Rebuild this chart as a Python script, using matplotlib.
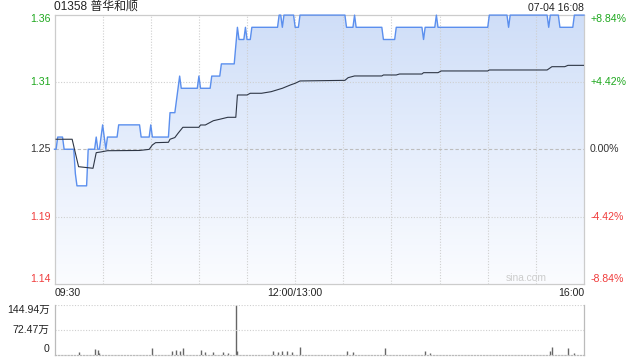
import numpy as np
import matplotlib
matplotlib.use("Agg")
import matplotlib.pyplot as plt
from matplotlib.colors import LinearSegmentedColormap

plt.rcParams['font.family'] = ['Liberation Sans', 'Noto Sans CJK SC', 'DejaVu Sans']
plt.rcParams['font.size'] = 7.6

# 基本情報
title = "01358 普华和顺"
stamp = "07-04 16:08"
prev_close = 1.25
pct_levels = [8.84, 4.42, 0.00, -4.42, -8.84]
price_labels = ["1.36", "1.31", "1.25", "1.19", "1.14"]
pct_labels = ["+8.84%", "+4.42%", "0.00%", "-4.42%", "-8.84%"]
label_colors = ["#1ea81e", "#1ea81e", "#333333", "#f03c3c", "#f03c3c"]
time_labels = ["09:30", "12:00/13:00", "16:00"]
time_label_pos = [0, 150, 330]

# 分時価格（取引開始からの分, 価格）
price_min = [0, 1, 2, 5, 6, 12, 13, 14, 20, 21, 25, 26, 27, 28, 29, 30, 31, 32, 33,
             39, 40, 53, 54, 59, 60, 61, 71, 72, 75, 76, 77, 78, 79, 89, 90, 91,
             97, 98, 103, 104, 112, 114, 115, 118, 119, 120, 122, 123, 139, 140,
             141, 142, 143, 149, 150, 152, 153, 181, 182, 186, 187, 188, 204, 205,
             212, 213, 229, 230, 231, 237, 238, 239, 270, 271, 282, 283, 284,
             307, 308, 309, 314, 315, 323, 324, 330]
price_val = [1.25, 1.25, 1.26, 1.26, 1.25, 1.25, 1.23, 1.22, 1.22, 1.25, 1.25, 1.26, 1.25, 1.25, 1.26, 1.27, 1.26, 1.25, 1.26,
             1.26, 1.27, 1.27, 1.26, 1.26, 1.27, 1.26, 1.26, 1.28, 1.28, 1.29, 1.30, 1.31, 1.30, 1.30, 1.31, 1.30,
             1.30, 1.31, 1.31, 1.32, 1.32, 1.35, 1.34, 1.34, 1.35, 1.34, 1.34, 1.35, 1.35, 1.36,
             1.36, 1.35, 1.36, 1.36, 1.35, 1.35, 1.36, 1.36, 1.35, 1.35, 1.36, 1.35, 1.35, 1.34,
             1.34, 1.35, 1.35, 1.34, 1.35, 1.35, 1.36, 1.35, 1.35, 1.36, 1.36, 1.35, 1.36,
             1.36, 1.35, 1.36, 1.36, 1.35, 1.35, 1.36, 1.36]

# 均価
avg_min = [1, 11, 15, 24, 26, 29, 33, 53, 59, 61, 63, 71, 72, 75, 77, 80, 90, 91, 94, 96,
           99, 103, 108, 113, 114, 120, 122, 129, 135, 142, 147, 150, 153, 181, 183, 187,
           204, 205, 213, 215, 229, 230, 239, 241, 270, 271, 307, 310, 318, 320, 330]
avg_val = [1.2582, 1.2582, 1.2357, 1.2344, 1.2472, 1.2478, 1.2488, 1.2490, 1.2499, 1.2535,
           1.2554, 1.2557, 1.2582, 1.2596, 1.2631, 1.2680, 1.2680, 1.2699, 1.2699, 1.2713,
           1.2734, 1.2746, 1.2762, 1.2762, 1.2945, 1.2945, 1.2959, 1.2959, 1.2972, 1.3000,
           1.3027, 1.3041, 1.3060, 1.3065, 1.3087, 1.3101, 1.3101, 1.3109, 1.3109, 1.3117,
           1.3117, 1.3128, 1.3128, 1.3142, 1.3142, 1.3150, 1.3150, 1.3177, 1.3177, 1.3188, 1.3188]

# 出来高
vol_min = [15, 25, 27, 28, 61, 73, 76, 78, 80, 91, 94, 99, 105, 108, 113, 114, 136, 139,
           142, 145, 148, 153, 182, 186, 206, 231, 234, 309, 310, 320, 324]
vol_val = [69000, 157000, 137000, 39000, 186000, 98000, 127000, 98000, 186000, 127000,
           78000, 78000, 69000, 49000, 1449400, 88000, 98000, 59000, 98000, 98000, 59000,
           215000, 98000, 59000, 186000, 98000, 49000, 108000, 215000, 186000, 39000]
vol_max = 1449400
vol_labels = ["144.94万", "72.47万", "0"]

W, H = 640, 360
fig = plt.figure(figsize=(6.4, 3.6), dpi=100)
ax = fig.add_axes([54.5 / W, 1 - 284 / H, 529.5 / W, 269.5 / H])
axv = fig.add_axes([54.5 / W, 1 - 354.5 / H, 529.5 / W, 49.5 / H])

levels = [prev_close * (1 + p / 100) for p in pct_levels]
ylo, yhi = levels[-1], levels[0]
ax.set_xlim(0, 330)
ax.set_ylim(ylo, yhi)

# グラデーション塗り
cmap = LinearSegmentedColormap.from_list("g", ["#fbfcff", "#e6eefc", "#cfdef8"])
poly = ax.fill_between(price_min, price_val, ylo, color="none", lw=0)
img = ax.imshow(np.linspace(0, 1, 256).reshape(-1, 1), cmap=cmap, origin="lower",
                extent=[0, 330, ylo, yhi], aspect="auto", zorder=1)
img.set_clip_path(poly.get_paths()[0], transform=ax.transData)

# グリッド
for m in range(30, 330, 30):
    ax.axvline(m, color="#cfcfcf", lw=0.8, ls=(0, (1, 1.5)), zorder=2)
for lv in [levels[1], levels[3]]:
    ax.axhline(lv, color="#cfcfcf", lw=0.8, ls=(0, (1, 1.5)), zorder=2)
ax.axhline(levels[2], color="#bdbdbd", lw=0.8, ls=(0, (3, 2)), zorder=2)

ax.plot(price_min, price_val, color="#5b8fee", lw=1.0, zorder=4, clip_on=False)
ax.plot(avg_min, avg_val, color="#2e3645", lw=0.8, zorder=5)

ax.set_xticks([])
ax.set_yticks([])
for s in ax.spines.values():
    s.set_color("#cccccc")
    s.set_linewidth(0.9)

ytr = ax.get_yaxis_transform()
vas = ["top", "center", "center", "center", "bottom"]
for lv, pl, cl, c, va in zip(levels, price_labels, pct_labels, label_colors, vas):
    ax.text(-0.0075, lv, pl, transform=ytr, ha="right", va=va, color=c)
    ax.text(1.0115, lv, cl, transform=ytr, ha="left", va=va, color=c)

xtr = ax.get_xaxis_transform()
for pos, lab, ha in zip(time_label_pos, time_labels, ["left", "center", "right"]):
    ax.text(pos, -0.016, lab, transform=xtr, ha=ha, va="top", color="#222222")

ax.text(0.0, 1.006, title, transform=ax.transAxes, ha="left", va="bottom",
        fontsize=8.6, color="#222222")
ax.text(1.0, 1.006, stamp, transform=ax.transAxes, ha="right", va="bottom",
        fontsize=7.6, color="#222222")
ax.text(0.93, 0.005, "sina.com", transform=ax.transAxes, ha="right", va="bottom",
        fontsize=7.4, color="#cccccc")

# 出来高パネル
axv.set_xlim(0, 330)
axv.set_ylim(0, vol_max)
axv.vlines(vol_min, 0, vol_val, color="#666666", lw=1.0)
axv.axhline(vol_max, color="#cfcfcf", lw=0.8, ls=(0, (1, 1.5)))
axv.axhline(vol_max / 2, color="#cfcfcf", lw=0.8, ls=(0, (1, 1.5)))
axv.set_xticks([])
axv.set_yticks([])
axv.spines["top"].set_visible(False)
axv.spines["bottom"].set_linestyle((0, (1, 1.5)))
for s in axv.spines.values():
    s.set_color("#bbbbbb")
    s.set_linewidth(0.9)
vtr = axv.get_yaxis_transform()
for yv, lab, va in zip([vol_max, vol_max / 2, 0], vol_labels, ["top", "center", "bottom"]):
    axv.text(-0.009, yv, lab, transform=vtr, ha="right", va=va, color="#222222")

fig.savefig("out.png", dpi=100)
